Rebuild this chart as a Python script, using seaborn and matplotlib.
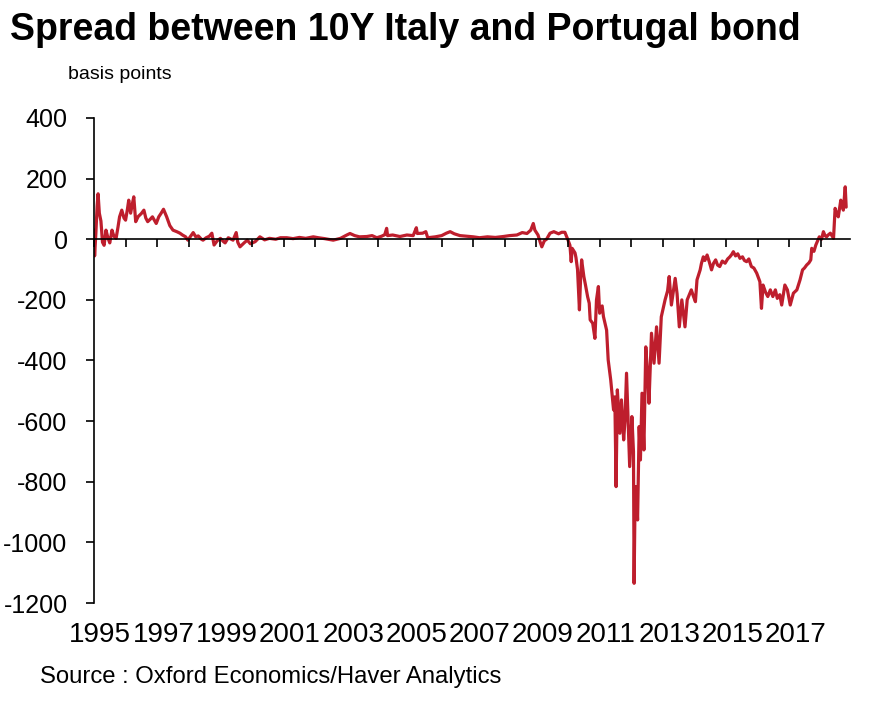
import pandas as pd
import seaborn as sns
import matplotlib.pyplot as plt

# decimal year and spread (basis points)
dates = [
    1995.00, 1995.02, 1995.06, 1995.10, 1995.13, 1995.17, 1995.22, 1995.27, 1995.32, 1995.38,
    1995.44, 1995.50, 1995.57, 1995.63, 1995.70, 1995.76, 1995.81, 1995.88, 1995.95, 1996.00,
    1996.06, 1996.10, 1996.16, 1996.22, 1996.26, 1996.32, 1996.40, 1996.50, 1996.58, 1996.64,
    1996.70, 1996.78, 1996.85, 1996.97, 1997.05, 1997.12, 1997.20, 1997.30, 1997.40, 1997.50,
    1997.62, 1997.72, 1997.80, 1997.90, 1997.97, 1998.07, 1998.14, 1998.22, 1998.30, 1998.40,
    1998.45, 1998.55, 1998.65, 1998.73, 1998.80, 1998.90, 1999.00, 1999.10, 1999.15, 1999.25,
    1999.40, 1999.50, 1999.55, 1999.62, 1999.75, 1999.85, 1999.95, 2000.10, 2000.25, 2000.40,
    2000.55, 2000.75, 2000.90, 2001.10, 2001.30, 2001.50, 2001.70, 2001.94, 2002.10, 2002.30,
    2002.57, 2002.80, 2003.00, 2003.10, 2003.25, 2003.40, 2003.63, 2003.80, 2003.95, 2004.10,
    2004.20, 2004.26, 2004.29, 2004.45, 2004.68, 2004.90, 2005.10, 2005.20, 2005.23, 2005.40,
    2005.50, 2005.56, 2005.80, 2006.00, 2006.15, 2006.27, 2006.40, 2006.58, 2006.80, 2007.00,
    2007.20, 2007.45, 2007.70, 2007.95, 2008.15, 2008.38, 2008.55, 2008.70, 2008.82, 2008.90,
    2008.95, 2009.05, 2009.12, 2009.17, 2009.25, 2009.32, 2009.43, 2009.55, 2009.70, 2009.80,
    2009.90, 2010.00, 2010.06, 2010.10, 2010.13, 2010.22, 2010.25, 2010.30, 2010.36, 2010.40,
    2010.43, 2010.50, 2010.55, 2010.62, 2010.67, 2010.70, 2010.78, 2010.85, 2010.90, 2010.96,
    2011.00, 2011.08, 2011.12, 2011.22, 2011.27, 2011.35, 2011.44, 2011.48, 2011.52, 2011.56,
    2011.64, 2011.69, 2011.76, 2011.80, 2011.85, 2011.90, 2011.95, 2012.02, 2012.07, 2012.09,
    2012.12, 2012.15, 2012.20, 2012.25, 2012.29, 2012.34, 2012.40, 2012.46, 2012.52, 2012.56,
    2012.64, 2012.72, 2012.80, 2012.88, 2012.95, 2013.07, 2013.15, 2013.20, 2013.27, 2013.39,
    2013.45, 2013.52, 2013.60, 2013.70, 2013.77, 2013.90, 2013.97, 2014.03, 2014.08, 2014.18,
    2014.22, 2014.28, 2014.33, 2014.40, 2014.47, 2014.54, 2014.60, 2014.67, 2014.73, 2014.80,
    2014.88, 2014.97, 2015.05, 2015.12, 2015.18, 2015.23, 2015.30, 2015.37, 2015.44, 2015.52,
    2015.58, 2015.65, 2015.72, 2015.80, 2015.88, 2015.97, 2016.07, 2016.12, 2016.17, 2016.25,
    2016.32, 2016.40, 2016.48, 2016.56, 2016.62, 2016.70, 2016.76, 2016.86, 2016.94, 2017.03,
    2017.13, 2017.24, 2017.34, 2017.42, 2017.48, 2017.55, 2017.62, 2017.68, 2017.71, 2017.78,
    2017.84, 2017.95, 2018.02, 2018.08, 2018.13, 2018.18, 2018.24, 2018.30, 2018.36, 2018.40,
    2018.45, 2018.50, 2018.55, 2018.63, 2018.68, 2018.71, 2018.77, 2018.80,
]
spread = [
    30, -55, 20, 110, 150, 86, 60, -10, -20, 30,
    5, -12, 30, 10, 3, 40, 74, 96, 70, 63,
    100, 129, 86, 120, 140, 58, 75, 85, 96, 70,
    58, 66, 74, 52, 74, 85, 99, 74, 45, 30,
    25, 20, 14, 8, -3, 12, 22, 8, 11, 0,
    -3, 5, 10, 20, -19, -5, 3, -8, -12, 5,
    -3, 22, -10, -25, -12, -3, -15, -8, 8, -2,
    3, 0, 5, 5, 2, 6, 3, 8, 5, 2,
    -3, 3, 14, 19, 12, 8, 9, 12, 5, 10,
    15, 36, 12, 14, 9, 14, 12, 38, 19, 20,
    25, 5, 8, 12, 20, 25, 18, 12, 10, 8,
    5, 8, 6, 9, 12, 14, 22, 19, 30, 52,
    30, 14, -10, -25, -5, 0, 20, 25, 18, 23,
    23, -3, -20, -74, -30, -45, -60, -100, -233, -120,
    -68, -123, -150, -190, -211, -266, -277, -327, -200, -156,
    -244, -220, -255, -300, -398, -464, -563, -520, -816, -497,
    -640, -530, -662, -600, -442, -596, -750, -585, -700, -1135,
    -860, -816, -926, -618, -728, -508, -695, -355, -450, -541,
    -310, -409, -289, -409, -256, -200, -170, -123, -217, -129,
    -180, -289, -200, -289, -200, -167, -189, -206, -134, -101,
    -80, -58, -70, -52, -75, -101, -80, -68, -85, -90,
    -72, -79, -65, -58, -50, -41, -55, -48, -63, -58,
    -70, -74, -65, -90, -95, -112, -140, -228, -151, -175,
    -189, -167, -189, -167, -195, -183, -217, -151, -167, -217,
    -178, -167, -134, -101, -95, -85, -78, -68, -30, -40,
    -19, 8, 0, 25, 12, 8, 15, 20, 10, 3,
    102, 85, 74, 129, 110, 96, 173, 106,
]
years = list(range(1995, 2019))
year_labels = [str(y) for y in range(1995, 2019, 2)]
y_ticks = [400, 200, 0, -200, -400, -600, -800, -1000, -1200]

df = pd.DataFrame({'date': dates, 'spread': spread})

sns.set_style('white')
plt.rcParams['font.family'] = ['Liberation Sans', 'DejaVu Sans']
plt.rcParams['text.color'] = 'black'
plt.rcParams['xtick.color'] = 'black'
plt.rcParams['ytick.color'] = 'black'

fig = plt.figure(figsize=(8.84, 7.07), dpi=100)
ax = fig.add_axes([0.1063, 0.1471, 0.8552, 0.6860])

sns.lineplot(data=df, x='date', y='spread', ax=ax, color='#BE1E2D', linewidth=2.3)

ax.set_xlim(1995.0, 2018.92)
ax.set_ylim(-1200, 400)
ax.set_yticks(y_ticks)
ax.set_yticklabels([str(v) for v in y_ticks])
ax.set_xticks([y + 0.2 for y in range(1995, 2019, 2)])
ax.set_xticklabels(year_labels)
ax.set_xlabel('')
ax.set_ylabel('')
for s in ['top', 'right', 'bottom']:
    ax.spines[s].set_visible(False)
ax.spines['left'].set_color('black')
ax.spines['left'].set_linewidth(1.2)
ax.tick_params(axis='y', direction='out', length=6, width=1.2, pad=13,
               labelsize=18, left=True)
ax.tick_params(axis='x', length=0, pad=14, labelsize=20)

# zero line with yearly tick marks
ax2 = ax.twiny()
ax2.set_xlim(ax.get_xlim())
ax2.spines['bottom'].set_position(('data', 0))
for s in ['top', 'right', 'left']:
    ax2.spines[s].set_visible(False)
ax2.spines['bottom'].set_color('black')
ax2.spines['bottom'].set_linewidth(1.2)
ax2.xaxis.tick_bottom()
ax2.set_xticks(years)
ax2.tick_params(axis='x', direction='out', length=6, width=1.2, labelbottom=False,
                labeltop=False)

fig.text(0.011, 0.958, 'Spread between 10Y Italy and Portugal bond', fontsize=27,
         fontweight='bold', va='center', ha='left')
fig.text(0.077, 0.894, 'basis points', fontsize=14, va='center', ha='left')
fig.text(0.045, 0.0424, 'Source : Oxford Economics/Haver Analytics', fontsize=17.2,
         va='center', ha='left')

fig.savefig('out.png', dpi=100)
